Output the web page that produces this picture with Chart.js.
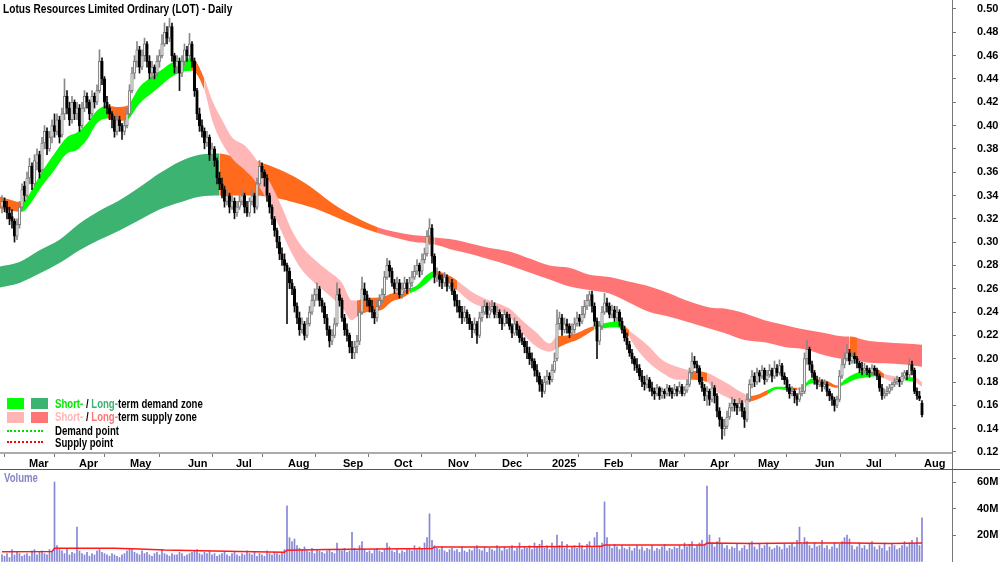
<!DOCTYPE html>
<html><head><meta charset="utf-8">
<script src="https://cdn.jsdelivr.net/npm/chart.js@4.4.1/dist/chart.umd.min.js"></script>
<style>
html,body{margin:0;padding:0;background:#fff;}
body{width:1000px;height:562px;position:relative;overflow:hidden;font-family:'Liberation Sans',Arial,sans-serif;}
canvas{position:absolute;left:0;}
#c1{top:0;} #c2{top:470px;}
.t{position:absolute;white-space:nowrap;font-weight:bold;transform-origin:0 0;line-height:14px;}
.box{position:absolute;width:17px;height:11px;}
.dot{position:absolute;width:36px;height:0;}
</style></head><body>
<canvas id="c1" width="1000" height="470"></canvas>
<canvas id="c2" width="1000" height="92"></canvas>
<div style="position:absolute;left:952px;top:0;width:1px;height:562px;background:#777"></div>
<div style="position:absolute;left:0;top:469px;width:1000px;height:1px;background:#555"></div>
<div class="t" style="left:3px;top:2px;font-size:13px;transform:scaleX(0.78)">Lotus Resources Limited Ordinary (LOT) - Daily</div>

<div class="box" style="left:7px;top:398px;background:#00ff00"></div>
<div class="box" style="left:31px;top:398px;background:#3cb371"></div>
<div class="t" style="left:55px;top:397px;font-size:12px;transform:scaleX(0.8)"><span style="color:#00e600">Short-</span> / <span style="color:#3cb371">Long-</span>term demand zone</div>
<div class="box" style="left:7px;top:412px;background:#ffb6b6"></div>
<div class="box" style="left:31px;top:412px;background:#ff7575"></div>
<div class="t" style="left:55px;top:410px;font-size:12px;transform:scaleX(0.8)"><span style="color:#ffb6b6">Short-</span> / <span style="color:#ff7575">Long-</span>term supply zone</div>
<div class="dot" style="left:7px;top:430px;border-top:2px dotted #00dd00"></div>
<div class="t" style="left:55px;top:424px;font-size:12px;transform:scaleX(0.8)">Demand point</div>
<div class="dot" style="left:7px;top:441px;border-top:2px dotted #ff0000"></div>
<div class="t" style="left:55px;top:436px;font-size:12px;transform:scaleX(0.8)">Supply point</div>
<div class="t" style="left:4px;top:471px;font-size:12px;color:#8585c8;transform:scaleX(0.8)">Volume</div>

<script>
// ---- Daily OHLC (A$) ----
const opens = [
.330,.335,.330,.325,.322,.318,.305,.315,.330,.348,
.340,.355,.365,.350,.368,.375,.362,.385,.395,.380,
.390,.400,.395,.405,.392,.410,.425,.415,.405,.420,
.410,.415,.400,.415,.425,.420,.410,.425,.420,.430,
.455,.440,.420,.415,.410,.405,.395,.405,.400,.395,
.400,.410,.430,.445,.455,.465,.450,.460,.470,.455,
.445,.450,.445,.455,.460,.470,.480,.475,.485,.460,
.450,.455,.445,.455,.465,.460,.470,.455,.430,.410,
.400,.395,.385,.390,.375,.380,.370,.355,.350,.345,
.335,.340,.330,.335,.325,.330,.335,.340,.330,.325,
.335,.340,.330,.350,.365,.360,.355,.340,.330,.320,
.310,.300,.290,.285,.280,.275,.265,.260,.245,.235,
.225,.230,.220,.230,.240,.250,.255,.260,.250,.245,
.235,.225,.215,.220,.230,.255,.250,.235,.225,.220,
.210,.205,.210,.215,.240,.260,.255,.250,.245,.240,
.235,.245,.250,.255,.270,.280,.275,.265,.260,.265,
.255,.260,.265,.260,.265,.270,.275,.280,.275,.285,
.290,.305,.312,.288,.270,.272,.268,.265,.270,.262,
.265,.258,.250,.245,.240,.235,.240,.235,.230,.225,
.230,.220,.235,.240,.245,.238,.242,.245,.238,.240,
.235,.230,.238,.235,.228,.222,.230,.225,.218,.215,
.210,.205,.200,.198,.190,.185,.178,.172,.180,.185,
.182,.190,.200,.230,.235,.225,.230,.228,.222,.225,
.230,.235,.232,.238,.245,.250,.255,.245,.232,.215,
.228,.240,.248,.245,.238,.242,.235,.240,.232,.225,
.218,.212,.205,.200,.195,.192,.185,.180,.178,.182,
.175,.172,.170,.175,.168,.172,.170,.175,.172,.170,
.174,.172,.176,.170,.173,.178,.188,.198,.195,.192,
.180,.175,.168,.172,.165,.175,.168,.155,.148,.140,
.142,.150,.158,.162,.160,.158,.162,.155,.148,.165,
.178,.185,.180,.188,.185,.190,.182,.186,.190,.185,
.192,.188,.194,.185,.182,.175,.170,.172,.168,.165,
.170,.172,.200,.208,.195,.188,.182,.178,.180,.176,
.178,.172,.168,.165,.160,.165,.185,.195,.200,.205,
.198,.202,.200,.196,.192,.190,.192,.190,.188,.192,
.190,.185,.175,.168,.170,.172,.175,.178,.180,.182,
.180,.185,.188,.186,.195,.190,.172,.168,.162];
const highs = [
.340,.338,.335,.330,.328,.320,.320,.335,.350,.352,
.360,.372,.368,.375,.380,.378,.390,.400,.398,.395,
.405,.410,.410,.408,.415,.440,.430,.420,.425,.422,
.420,.418,.420,.430,.428,.422,.430,.428,.435,.465,
.458,.442,.425,.418,.412,.408,.410,.408,.402,.405,
.415,.435,.450,.460,.472,.468,.465,.475,.472,.460,
.455,.452,.460,.465,.478,.488,.485,.492,.488,.462,
.460,.458,.460,.470,.468,.479,.472,.458,.432,.415,
.405,.398,.395,.392,.385,.382,.372,.360,.355,.348,
.345,.342,.340,.338,.335,.340,.345,.342,.335,.338,
.345,.342,.355,.370,.368,.362,.358,.342,.332,.322,
.312,.305,.295,.290,.282,.278,.268,.262,.248,.240,
.235,.232,.235,.245,.255,.260,.265,.262,.252,.248,
.238,.228,.225,.235,.265,.260,.252,.238,.230,.222,
.215,.215,.220,.245,.270,.265,.258,.252,.250,.242,
.250,.255,.260,.275,.286,.284,.278,.268,.270,.268,
.265,.270,.268,.270,.275,.280,.285,.282,.290,.295,
.310,.320,.315,.290,.278,.275,.272,.274,.272,.270,
.268,.260,.255,.250,.245,.245,.242,.238,.232,.235,
.232,.240,.245,.250,.248,.248,.250,.248,.245,.242,
.238,.242,.240,.238,.230,.235,.232,.228,.222,.218,
.215,.210,.205,.200,.195,.188,.182,.185,.190,.188,
.195,.205,.242,.240,.238,.235,.234,.230,.230,.235,
.240,.238,.245,.250,.255,.258,.258,.248,.235,.232,
.245,.256,.252,.248,.246,.245,.245,.242,.235,.228,
.222,.215,.208,.202,.200,.195,.190,.185,.186,.184,
.180,.175,.178,.176,.175,.174,.178,.177,.175,.178,
.176,.180,.178,.176,.182,.192,.205,.202,.198,.194,
.184,.178,.176,.174,.180,.177,.170,.158,.150,.148,
.155,.162,.167,.165,.162,.166,.164,.158,.170,.182,
.190,.188,.192,.190,.194,.192,.190,.195,.192,.198,
.195,.199,.196,.188,.184,.178,.176,.174,.170,.175,
.178,.205,.216,.210,.198,.190,.185,.184,.182,.182,
.180,.174,.170,.167,.168,.190,.200,.205,.212,.208,
.206,.205,.202,.198,.197,.196,.194,.192,.195,.194,
.192,.187,.178,.174,.176,.178,.180,.183,.185,.184,
.188,.190,.190,.200,.198,.192,.175,.172,.164];
const lows = [
.325,.326,.320,.315,.312,.300,.302,.312,.328,.335,
.338,.350,.345,.348,.362,.355,.360,.380,.375,.378,
.385,.390,.392,.385,.390,.405,.410,.400,.402,.405,
.405,.395,.398,.412,.415,.405,.408,.415,.418,.428,
.435,.415,.410,.405,.398,.390,.392,.395,.388,.392,
.398,.408,.428,.440,.450,.445,.448,.455,.450,.440,
.440,.440,.442,.450,.458,.468,.470,.472,.455,.445,
.445,.430,.442,.452,.455,.458,.450,.425,.405,.395,
.390,.380,.382,.370,.372,.365,.350,.345,.338,.330,
.332,.325,.328,.320,.322,.328,.332,.325,.322,.322,
.332,.325,.328,.348,.355,.348,.335,.325,.315,.305,
.295,.285,.280,.275,.230,.260,.255,.240,.230,.220,
.222,.216,.218,.228,.238,.245,.250,.245,.240,.230,
.220,.210,.212,.218,.228,.245,.232,.220,.215,.205,
.200,.200,.205,.212,.238,.250,.245,.240,.235,.230,
.232,.242,.248,.252,.268,.270,.262,.256,.258,.252,
.252,.258,.256,.258,.262,.268,.272,.270,.272,.282,
.288,.298,.282,.265,.266,.262,.260,.262,.258,.260,
.255,.245,.240,.235,.230,.232,.230,.225,.218,.222,
.213,.218,.232,.238,.235,.235,.240,.235,.235,.230,
.225,.228,.230,.225,.218,.220,.220,.214,.212,.205,
.200,.195,.192,.185,.180,.172,.167,.170,.178,.178,
.180,.188,.198,.225,.220,.222,.222,.218,.220,.222,
.228,.228,.230,.235,.242,.245,.240,.228,.200,.212,
.225,.238,.240,.235,.235,.232,.232,.228,.222,.215,
.208,.202,.196,.190,.188,.182,.176,.173,.175,.172,
.168,.165,.168,.165,.166,.166,.168,.168,.166,.168,
.168,.170,.168,.168,.171,.176,.186,.192,.188,.178,
.172,.164,.160,.160,.163,.162,.150,.142,.131,.134,
.140,.148,.155,.155,.152,.155,.150,.141,.146,.163,
.175,.176,.178,.180,.183,.178,.180,.184,.180,.183,
.185,.186,.182,.178,.172,.166,.168,.162,.160,.163,
.168,.170,.195,.190,.184,.178,.174,.176,.172,.174,
.168,.164,.160,.155,.158,.163,.183,.192,.198,.195,
.196,.196,.192,.188,.186,.188,.186,.184,.186,.186,
.182,.172,.165,.166,.168,.170,.173,.176,.178,.176,
.178,.183,.182,.184,.186,.170,.165,.164,.150];
const closes = [
.335,.330,.325,.320,.318,.305,.315,.330,.345,.340,
.355,.365,.350,.370,.375,.360,.385,.395,.380,.390,
.400,.395,.405,.390,.410,.425,.415,.405,.420,.410,
.415,.400,.415,.425,.420,.410,.425,.420,.430,.455,
.440,.420,.415,.410,.405,.395,.405,.400,.395,.400,
.410,.430,.445,.455,.465,.450,.460,.470,.455,.445,
.450,.445,.455,.460,.470,.480,.475,.485,.460,.450,
.455,.445,.455,.465,.460,.470,.455,.430,.410,.400,
.395,.385,.390,.375,.380,.370,.355,.350,.345,.335,
.340,.330,.335,.325,.330,.335,.340,.330,.325,.335,
.340,.330,.350,.365,.360,.355,.340,.330,.320,.310,
.300,.290,.285,.280,.275,.265,.260,.245,.235,.225,
.230,.220,.230,.240,.250,.255,.260,.250,.245,.235,
.225,.215,.220,.230,.255,.250,.235,.225,.220,.210,
.205,.210,.215,.240,.260,.255,.250,.245,.240,.235,
.245,.250,.255,.270,.280,.275,.265,.260,.265,.255,
.260,.265,.260,.265,.270,.275,.280,.275,.285,.290,
.305,.312,.288,.270,.272,.268,.265,.270,.262,.265,
.258,.250,.245,.240,.235,.240,.235,.230,.225,.230,
.220,.235,.240,.245,.238,.242,.245,.238,.240,.235,
.230,.238,.235,.228,.222,.230,.225,.218,.215,.210,
.205,.200,.198,.190,.185,.178,.172,.180,.185,.182,
.190,.198,.230,.235,.225,.230,.228,.222,.225,.230,
.235,.232,.238,.245,.250,.255,.245,.232,.215,.228,
.240,.248,.245,.238,.242,.235,.240,.232,.225,.218,
.212,.205,.200,.195,.192,.185,.180,.178,.182,.175,
.172,.170,.175,.168,.172,.170,.175,.172,.170,.174,
.172,.176,.170,.173,.178,.188,.198,.195,.192,.180,
.175,.168,.172,.165,.175,.168,.155,.148,.140,.142,
.150,.158,.162,.160,.158,.162,.155,.148,.165,.178,
.185,.180,.188,.185,.190,.182,.186,.190,.185,.192,
.188,.194,.185,.182,.175,.170,.172,.168,.165,.170,
.172,.200,.208,.195,.188,.182,.178,.180,.176,.178,
.172,.168,.165,.160,.165,.185,.195,.200,.205,.198,
.202,.200,.196,.192,.190,.192,.190,.188,.192,.190,
.185,.175,.168,.170,.172,.175,.178,.180,.182,.180,
.185,.188,.186,.195,.190,.172,.168,.166,.152];
// ---- Daily volume (millions of shares) ----
const volumes = [
5,4,6,3,9,5,7,6,4,5, 6,4,8,9,5,7,8,6,5,9, 7,60,12,9,8,6,10,5,7,6, 26,8,6,5,7,4,6,5,8,9,
7,6,5,4,6,5,4,3,5,6, 8,10,9,7,6,5,8,6,7,5, 4,6,7,5,9,6,5,4,6,5, 5,7,6,4,5,6,7,8,9,6,
5,7,6,8,5,6,4,5,6,7, 5,4,6,7,5,4,6,5,8,6, 5,7,4,6,5,4,8,6,5,7, 6,5,7,9,42,18,15,17,12,10,
9,11,8,7,10,6,9,8,7,6, 8,9,7,6,14,9,8,10,7,8, 22,10,8,12,15,9,7,8,6,9, 10,8,7,9,14,11,8,7,9,6,
8,7,9,10,8,12,9,11,10,14, 18,36,16,12,10,9,11,8,7,9, 10,8,9,7,11,8,7,9,8,10, 12,9,8,11,7,10,9,8,12,10,
8,11,9,10,12,8,10,14,9,11, 10,12,9,14,11,13,16,10,12,9, 14,11,20,12,15,10,13,9,11,12, 10,14,12,9,13,15,11,18,22,12,
14,45,18,12,10,13,11,9,12,10, 9,11,8,10,12,9,11,8,10,9, 12,8,10,9,11,13,8,10,9,11, 10,12,9,14,11,13,15,10,12,14,
16,12,57,20,14,11,15,18,13,10, 12,9,11,10,13,8,10,12,9,14, 15,11,9,13,10,12,14,11,9,10, 12,11,9,13,10,12,14,11,16,26,
13,18,15,12,10,14,11,12,16,10, 12,9,11,14,10,13,15,18,20,17, 12,9,11,14,10,12,9,13,15,11, 9,12,10,14,8,11,13,12,9,10,
12,15,11,14,16,13,18,12,33];
// volume moving average, read at selected bars
const volMaBar = [0,20,21,45,55,65,80,95,113,114,130,150,172,173,200,240,241,260,281,282,300,320,340,355,368];
const volMaVal = [7.4,7.6,10,10,9.5,8.7,8.2,7.5,7.0,8.5,9,9.5,9.8,11,11,11.5,12.5,12.5,12.5,14,13.5,14,14,13.5,14];

// ---- Short-term zone (upper / lower edge, state: D demand, S supply, N neutral) ----
const stBar = [-1,4,8,12,15,20,26,30,34,38,42,46,50,55,60,64,68,72,76,81,84,88,92,97,101,106,112,116,120,125,130,136,140,142,146,152,156,160,163,166,170,173,176,180,182,185,189,195,203,208,214,219,222,226,230,234,237,240,246,249,251,254,259,264,270,275,282,285,290,296,299,302,306,310,314,318,320,324,326,330,334,337,341,346,350,353,357,361,365,368];
const stHi = [.339,.336,.334,.345,.357,.373,.390,.394,.402,.413,.417,.416,.417,.433,.442,.448,.454,.456,.458,.440,.422,.405,.390,.383,.373,.356,.330,.310,.296,.285,.276,.265,.250,.250,.252,.253,.256,.258,.260,.263,.272,.275,.274,.270,.267,.262,.256,.250,.243,.233,.222,.213,.219,.220,.222,.226,.228,.230,.232,.228,.224,.219,.210,.199,.193,.190,.188,.185,.179,.171,.168,.169,.173,.176,.176,.175,.176,.183,.182,.181,.177,.182,.187,.190,.191,.187,.185,.184,.184,.180];
const stLo = [.329,.327,.326,.335,.345,.359,.376,.379,.388,.402,.406,.404,.405,.419,.428,.435,.442,.446,.447,.430,.405,.385,.372,.362,.353,.336,.308,.290,.276,.265,.256,.244,.233,.236,.240,.242,.249,.252,.256,.259,.265,.270,.267,.262,.259,.253,.247,.243,.236,.222,.210,.206,.209,.213,.216,.221,.225,.226,.227,.223,.218,.208,.196,.188,.182,.182,.180,.173,.167,.162,.163,.165,.169,.174,.173,.173,.174,.179,.178,.177,.175,.178,.182,.184,.185,.183,.180,.181,.180,.176];
const stState = ['N','N','D','D','D','D','D','D','D','D','N','N','D','D','D','D','D','D','N','S','S','S','S','S','S','S','S','S','S','S','S','S','S','N','N','N','N','N','D','D','D','N','N','N','S','S','S','S','S','S','S','S','N','N','N','N','D','D','D','N','S','S','S','S','S','N','S','S','S','S','N','N','D','D','N','S','D','D','N','N','D','D','D','D','N','S','S','D','S','S'];

// ---- Long-term zone ----
const ltBar = [-1,7,15,23,31,39,47,55,63,71,79,87,93,101,109,117,125,133,141,150,157,165,170,173,181,189,195,203,211,219,227,235,243,251,259,267,275,283,289,297,305,313,321,329,337,339,342,345,353,361,368];
const ltHi = [.279,.283,.293,.302,.316,.327,.336,.347,.359,.369,.375,.376,.373,.370,.364,.356,.345,.332,.322,.313,.309,.306,.305,.304,.302,.298,.295,.292,.286,.280,.278,.272,.270,.266,.262,.256,.249,.244,.243,.239,.233,.229,.225,.222,.219,.219,.218,.216,.214,.213,.212];
const ltLo = [.261,.265,.273,.282,.293,.302,.310,.319,.328,.334,.339,.340,.340,.340,.338,.334,.329,.322,.315,.308,.304,.300,.299,.298,.293,.289,.285,.280,.274,.268,.262,.259,.256,.248,.240,.236,.231,.226,.222,.216,.214,.210,.208,.203,.200,.200,.199,.197,.196,.195,.193];
const ltState = ['D','D','D','D','D','D','D','D','D','D','D','N','N','N','N','N','N','N','N','S','S','S','N','S','S','S','S','S','S','S','S','S','S','S','S','S','S','S','S','S','S','S','S','S','S','N','S','S','S','S','S'];

// ---- Axis labels ----
const priceTicks = [0.12,0.14,0.16,0.18,0.20,0.22,0.24,0.26,0.28,0.30,0.32,0.34,0.36,0.38,0.40,0.42,0.44,0.46,0.48,0.50];
const monthBar = [10.8,30.8,51.2,74.4,93.6,114.4,136.4,156.8,178.4,200,220,240.8,262.8,283.2,302.4,325.2,345.6,368.8];
const monthLabels = ['Mar','Apr','May','Jun','Jul','Aug','Sep','Oct','Nov','Dec','2025','Feb','Mar','Apr','May','Jun','Jul','Aug'];
const volTicks = [20,40,60];

Chart.defaults.font.family = "'Liberation Sans', Arial, sans-serif";
const shortPal = {D:'#00ff00', S:'#ffb6b6', N:'#ff6a1c'};
const longPal = {D:'#3cb371', S:'#ff7575', N:'#ff6a1c'};

function band(bars, hi, lo, st, pal, order) {
  return [
    {type:'line', data: bars.map((x,k)=>({x, y:hi[k]})), borderWidth:0, borderColor:'rgba(0,0,0,0)',
     pointRadius:0, fill:'+1', backgroundColor: pal[st[0]], cubicInterpolationMode:'monotone', order,
     segment:{backgroundColor: c => pal[st[c.p0DataIndex]]}},
    {type:'line', data: bars.map((x,k)=>({x, y:lo[k]})), borderWidth:0, borderColor:'rgba(0,0,0,0)',
     pointRadius:0, fill:false, cubicInterpolationMode:'monotone', order}
  ];
}
// keep the plot area fixed: no extra vertical padding from right-axis labels
function fixY(s) { s.width = 48; s.paddingTop = 0; s.paddingBottom = 0; }

const n = closes.length;
const bars = Array.from({length:n}, (_, i) => i);
const up = bars.map(i => closes[i] >= opens[i]);
const X_MIN = -0.8, X_MAX = 380;

new Chart(document.getElementById('c1'), {
  type: 'bar',
  data: { datasets: [
    ...band(ltBar, ltHi, ltLo, ltState, longPal, 20),
    ...band(stBar, stHi, stLo, stState, shortPal, 10),
    {type:'bar', data: bars.map(i=>({x:i, y:[lows[i], highs[i]]})), backgroundColor: bars.map(i=> up[i] ? '#888' : '#111'),
     barThickness:1, grouped:false, order:2, minBarLength:1},
    {type:'bar', data: bars.map(i=>({x:i, y:[opens[i], closes[i]]})), backgroundColor: bars.map(i=> up[i] ? '#f4f4f4' : '#000'),
     borderColor: bars.map(i=> up[i] ? '#7a7a7a' : '#000'), borderWidth:{left:1,right:1,top:1,bottom:1}, borderSkipped:false,
     barThickness:2.6, grouped:false, order:1, minBarLength:1}
  ]},
  options: {
    responsive:false, animation:false, events:[],
    layout:{padding:0, autoPadding:false},
    plugins:{legend:{display:false}, tooltip:{enabled:false}},
    scales: {
      x: {type:'linear', min:X_MIN, max:X_MAX, offset:false,
        afterFit: s => { s.height = 17; s.paddingLeft = 0; s.paddingRight = 0; },
        afterBuildTicks: s => { s.ticks = monthBar.map(v=>({value:v})); },
        ticks:{autoSkip:false, maxRotation:0, minRotation:0, align:'start', padding:0,
          font:{size:11, weight:'bold'}, color:'#000', callback:(v,i)=>monthLabels[i]},
        grid:{drawOnChartArea:false, drawTicks:true, tickLength:4, color:'#777'},
        border:{display:true, color:'#aaa', width:2}},
      y: {position:'right', min:0.1191, max:0.5077,
        afterFit: fixY,
        afterBuildTicks: s => { s.ticks = priceTicks.map(v=>({value:v})); },
        ticks:{font:{size:11, weight:'bold'}, color:'#000', padding:21, callback: v => v.toFixed(2)},
        grid:{drawOnChartArea:false, drawTicks:true, tickLength:4, color:'#777'},
        border:{display:false}}
    }
  }
});

new Chart(document.getElementById('c2'), {
  type: 'bar',
  data: { datasets: [
    {type:'line', data: volMaBar.map((x,k)=>({x, y:volMaVal[k]})), borderColor:'#ff1a1a', borderWidth:1.5,
     pointRadius:0, fill:false, tension:0, order:0},
    {type:'bar', data: bars.map(i=>({x:i, y:volumes[i]})), backgroundColor:'#8585d6', barThickness:1, grouped:false, order:1}
  ]},
  options: {
    responsive:false, animation:false, events:[],
    layout:{padding:0, autoPadding:false},
    plugins:{legend:{display:false}, tooltip:{enabled:false}},
    scales: {
      x: {type:'linear', min:X_MIN, max:X_MAX, offset:false, display:false},
      y: {position:'right', min:-0.37, max:69.06,
        afterFit: fixY,
        afterBuildTicks: s => { s.ticks = volTicks.map(v=>({value:v})); },
        ticks:{font:{size:11, weight:'bold'}, color:'#000', padding:21, callback: v => v + 'M'},
        grid:{drawOnChartArea:false, drawTicks:true, tickLength:4, color:'#777'},
        border:{display:false}}
    }
  }
});
</script>
</body></html>
